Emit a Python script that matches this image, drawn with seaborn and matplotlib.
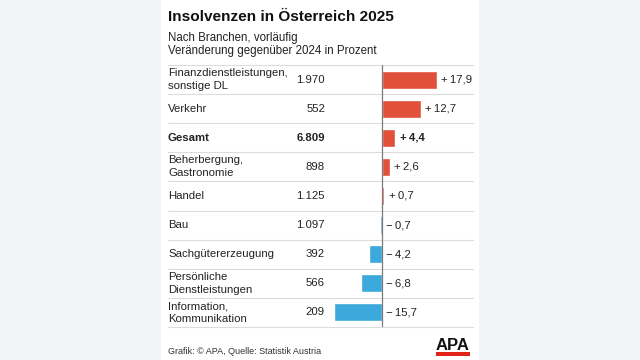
import matplotlib
matplotlib.use("Agg")
import matplotlib.pyplot as plt
from matplotlib.patches import Rectangle
import seaborn as sns
import pandas as pd

categories = ["Finanzdienstleistungen,\nsonstige DL", "Verkehr", "Gesamt",
              "Beherbergung,\nGastronomie", "Handel", "Bau", "Sachgütererzeugung",
              "Persönliche\nDienstleistungen", "Information,\nKommunikation"]
counts = [1970, 552, 6809, 898, 1125, 1097, 392, 566, 209]
changes = [17.9, 12.7, 4.4, 2.6, 0.7, -0.7, -4.2, -6.8, -15.7]

title = "Insolvenzen in Österreich 2025"
subtitle1 = "Nach Branchen, vorläufig"
subtitle2 = "Veränderung gegenüber 2024 in Prozent"
footer = "Grafik: © APA, Quelle: Statistik Austria"

RED = "#e0503a"
BLUE = "#3ba9dc"

sns.set_theme(style="white")
plt.rcParams["font.family"] = ["Liberation Sans", "DejaVu Sans"]

W, H = 640, 360
fig = plt.figure(figsize=(6.4, 3.6), dpi=100)
fig.patch.set_facecolor("#f3f4f5")
fig.patches.append(Rectangle((161 / W, 0), 318 / W, 1, transform=fig.transFigure,
                             facecolor="white", edgecolor="none", zorder=-5))

left, right, top, bottom = 161, 479, 65, 327
ax = fig.add_axes([left / W, 1 - bottom / H, (right - left) / W, (bottom - top) / H])
ax.set_facecolor("none")
ax.set_zorder(2)

df = pd.DataFrame({"cat": categories, "chg": changes})
colors = [RED if v > 0 else BLUE for v in changes]
sns.barplot(data=df, x="chg", y="cat", hue="cat", palette=colors, legend=False,
            orient="h", width=0.62, saturation=1, ax=ax)

pxu = 3.05
zero = 382
ax.set_xlim((left - zero) / pxu, (right - zero) / pxu)
ax.set_ylim(len(categories) - 0.5, -0.5)
ax.axvline(0, color="#7a7a7a", lw=0.9, zorder=3)
for s in ax.spines.values():
    s.set_visible(False)
ax.set_xticks([])
ax.set_yticks([])
ax.set_xlabel("")
ax.set_ylabel("")

tr = ax.get_yaxis_transform()
x_lab = (168 - left) / (right - left)
x_num = (325 - left) / (right - left)
for i in range(len(categories) + 1):
    ax.plot([x_lab, (473 - left) / (right - left)], [i - 0.5, i - 0.5], transform=tr,
            color="#dcdcdc", lw=0.8, clip_on=False, zorder=1)

def fmt_int(n):
    return f"{n:,}".replace(",", ".")

def fmt_chg(v):
    s = f"{abs(v):.1f}".replace(".", ",")
    return ("+" if v > 0 else "\u2212") + "\u2009" + s

for i, (c, n, v) in enumerate(zip(categories, counts, changes)):
    bold = c == "Gesamt"
    fw = "bold" if bold else "normal"
    ax.text(x_lab, i, c, transform=tr, ha="left", va="center", fontsize=8.2,
            fontweight=fw, color="#222222", linespacing=1.35)
    ax.text(x_num, i, fmt_int(n), transform=tr, ha="right", va="center", fontsize=8.2,
            fontweight=fw, color="#222222")
    xe = max(v, 0) + 4.5 / pxu
    ax.text(xe, i, fmt_chg(v), ha="left", va="center", fontsize=8.2,
            fontweight=fw, color="#222222")

fig.text(168 / W, 1 - 17 / H, title, ha="left", va="center", fontsize=11.1,
         fontweight="bold", color="#111111")
fig.text(168 / W, 1 - 38 / H, subtitle1, ha="left", va="center", fontsize=8.3, color="#222222")
fig.text(168 / W, 1 - 51 / H, subtitle2, ha="left", va="center", fontsize=8.3, color="#222222")
fig.text(168 / W, 1 - 351 / H, footer, ha="left", va="center", fontsize=6.5, color="#333333")

# APA logo
fig.text(452.5 / W, 1 - 346 / H, "APA", ha="center", va="center", fontsize=12,
         fontweight="bold", color="#111111")
fig.patches.append(Rectangle((436 / W, 1 - 356 / H), 34 / W, 4 / H, transform=fig.transFigure,
                             facecolor="#e2231a", edgecolor="none"))

fig.savefig("out.png", dpi=100)
